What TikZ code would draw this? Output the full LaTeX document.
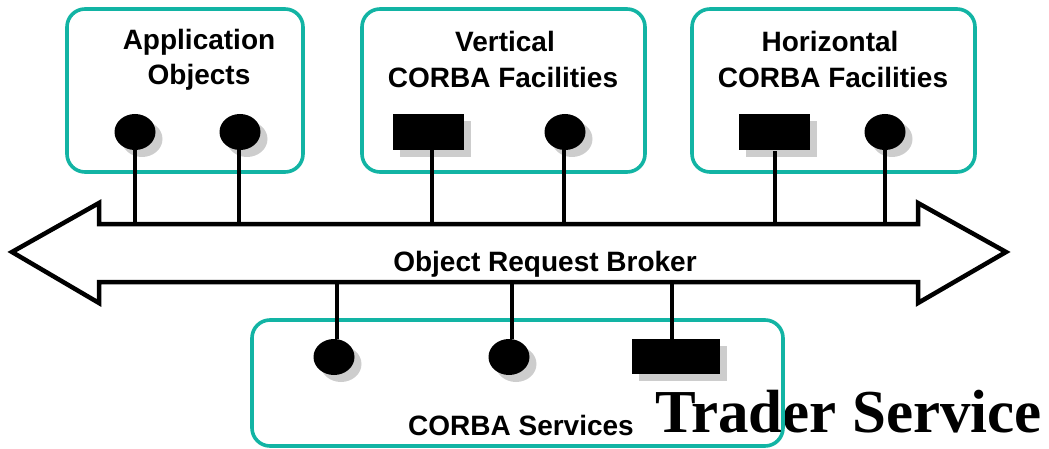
\documentclass[tikz,border=0pt]{standalone}
\usepackage{fontspec}
\setmainfont{Liberation Sans}
\newfontfamily\serifbold{Liberation Serif}
\usetikzlibrary{shapes.geometric,shadows}
\definecolor{tealline}{RGB}{18,180,164}
\definecolor{shadowgray}{RGB}{205,205,205}
\begin{document}
\begin{tikzpicture}[x=1pt,y=-1pt,
  groupbox/.style={draw=tealline,line width=3.6pt,rounded corners=18pt},
  label/.style={inner sep=0pt,anchor=base,font=\fontsize{28}{32}\selectfont\bfseries},
  shadowed/.style={general shadow={fill=shadowgray,shadow xshift=7pt,shadow yshift=-7pt}},
  plug/.style={shape=ellipse,fill=black,inner sep=0pt,minimum width=41pt,minimum height=36pt,shadowed},
  socket/.style={shape=rectangle,fill=black,inner sep=0pt,minimum width=71pt,minimum height=36pt,shadowed},
  stem/.style={line width=4pt},
  bus/.style={line width=4.5pt,miter limit=20,line join=miter}]
\useasboundingbox (0,0) rectangle (1049,449);

% caption behind the services box outline
\node[inner sep=0pt,anchor=base west,font=\serifbold\fontsize{61}{64}\selectfont\bfseries]
  (trader) at (655,432) {Trader Service};

% group outlines
\draw[groupbox] (67,9) rectangle (303,172);
\draw[groupbox] (362,9) rectangle (645,172);
\draw[groupbox] (692,9) rectangle (975,172);
\draw[groupbox] (252,320) rectangle (783,446);

% group titles
\node[label] (appA) at (199,50) {Application};
\node[label] (appB) at (199,85) {Objects};
\node[label] (vertA) at (505,52) {Vertical};
\node[label] (vertB) at (503,88) {CORBA Facilities};
\node[label] (horA) at (830,52) {Horizontal};
\node[label] (horB) at (833,88) {CORBA Facilities};
\node[label] (svc) at (521,435) {CORBA Services};

% the request broker as a double arrow
\draw[bus] (12,252) -- (99,203) -- (99,224) -- (918,224) -- (918,203) -- (1006,252)
  -- (918,303) -- (918,282) -- (99,282) -- (99,303) -- cycle;
\node[label] (orb) at (545,271) {Object Request Broker};

% interfaces
\node[plug] (a1) at (135,132) {};
\node[plug] (a2) at (240,132) {};
\node[socket] (v1) at (428.5,132) {};
\node[plug] (v2) at (565,132) {};
\node[socket] (h1) at (774,132.5) {};
\node[plug] (h2) at (885,132) {};
\node[plug] (s1) at (334,357) {};
\node[plug] (s2) at (509,357) {};
\node[socket,minimum width=88pt,minimum height=35pt] (s3) at (676,356.5) {};

% attachment points on the bus
\coordinate (pa1) at (135,224);
\coordinate (pa2) at (239,224);
\coordinate (pv1) at (432,224);
\coordinate (pv2) at (564,224);
\coordinate (ph1) at (775,224);
\coordinate (ph2) at (885,224);
\coordinate (ps1) at (337,282);
\coordinate (ps2) at (512,282);
\coordinate (ps3) at (672,282);

% stems
\draw[stem] (pa1) -- (pa1 |- a1.south);
\draw[stem] (pa2) -- (pa2 |- a2.south);
\draw[stem] (pv1) -- (pv1 |- v1.south);
\draw[stem] (pv2) -- (pv2 |- v2.south);
\draw[stem] (ph1) -- (ph1 |- h1.south);
\draw[stem] (ph2) -- (ph2 |- h2.south);
\draw[stem] (ps1) -- (ps1 |- s1.north);
\draw[stem] (ps2) -- (ps2 |- s2.north);
\draw[stem] (ps3) -- (ps3 |- s3.north);
\end{tikzpicture}
\end{document}
